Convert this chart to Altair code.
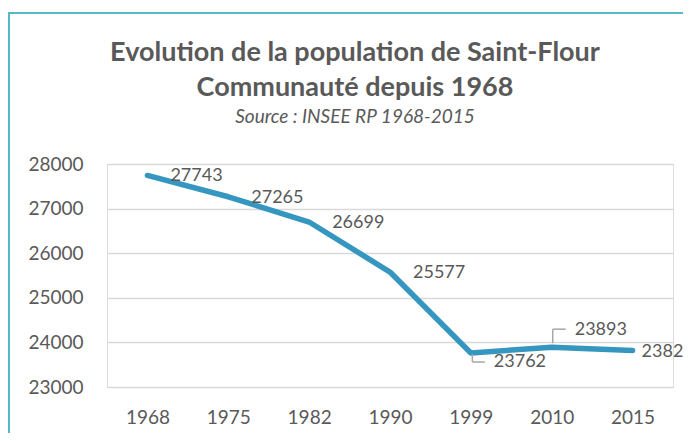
import altair as alt
import pandas as pd

years = ["1968", "1975", "1982", "1990", "1999", "2010", "2015"]
population = [27743, 27265, 26699, 25577, 23762, 23893, 23820]
title_lines = ["Evolution de la population de Saint-Flour", "Communauté depuis 1968"]
subtitle_text = "Source : INSEE RP 1968-2015"

df = pd.DataFrame({"year": years, "value": population})

TXT = "#595959"
FONT = "Lato"
LINE = "#3596bf"
GRAY = "#a6a6a6"

xenc = alt.X("year:O", sort=years,
             scale=alt.Scale(type="point", padding=0.5),
             axis=alt.Axis(title=None, labelAngle=0, grid=False, ticks=False,
                           domain=False, labelPadding=21, labelFontSize=19,
                           labelFont=FONT, labelColor=TXT))
yenc = alt.Y("value:Q",
             scale=alt.Scale(domain=[23000, 28000], nice=False, zero=False),
             axis=alt.Axis(title=None, values=[23000, 24000, 25000, 26000, 27000, 28000],
                           format="d", ticks=False, domain=False, labelPadding=24,
                           labelFontSize=19, labelFont=FONT, labelColor=TXT,
                           gridColor="#d9d9d9", gridWidth=1.5))

base = alt.Chart(df)
one = alt.InlineData(values=[{"a": 1}])

frame = alt.Chart(one).mark_rect(
    fill=None, stroke="#56b9c7", strokeWidth=2
).encode(x=alt.value(-98), x2=alt.value(700), y=alt.value(-151), y2=alt.value(400))

t1 = alt.Chart(one).mark_text(font=FONT, fontSize=27, fontWeight="bold", color=TXT,
                              align="center", baseline="alphabetic", text=title_lines[0]
                              ).encode(x=alt.value(248), y=alt.value(-103))
t2 = alt.Chart(one).mark_text(font=FONT, fontSize=27, fontWeight="bold", color=TXT,
                              align="center", baseline="alphabetic", text=title_lines[1]
                              ).encode(x=alt.value(248), y=alt.value(-68))
t3 = alt.Chart(one).mark_text(font=FONT, fontSize=19, fontStyle="italic", color=TXT,
                              align="center", baseline="alphabetic", text=subtitle_text
                              ).encode(x=alt.value(248), y=alt.value(-41))

line = base.mark_line(color=LINE, strokeWidth=5.5, strokeCap="round", strokeJoin="round").encode(
    x=xenc, y=yenc)

sel_std = ["1968", "1975", "1982", "1990"]

def labels(keep, dx, dy):
    return base.transform_filter(
        alt.FieldOneOfPredicate(field="year", oneOf=keep)
    ).mark_text(align="left", baseline="middle", dx=dx, dy=dy, font=FONT,
                fontSize=18, color=TXT).encode(
        x=alt.X("year:O", sort=years, scale=alt.Scale(type="point", padding=0.5)),
        y="value:Q", text=alt.Text("value:Q", format="d"))

lab_std = labels(sel_std, 23, 1)
lab_99 = labels(["1999"], 23, 9)
lab_10 = labels(["2010"], 23, -17)
lab_15 = labels(["2015"], 9, 2)

def leader(keep, xo, yo, x2o, y2o):
    return base.transform_filter(
        alt.FieldOneOfPredicate(field="year", oneOf=keep)
    ).mark_rule(color=GRAY, strokeWidth=1.5, xOffset=xo, yOffset=yo,
                x2Offset=x2o, y2Offset=y2o).encode(
        x=alt.X("year:O", sort=years, scale=alt.Scale(type="point", padding=0.5)),
        y="value:Q", x2="year:O", y2="value:Q")

l99a = leader(["1999"], 1.5, 1, 1.5, 9)
l99b = leader(["1999"], 1.5, 9, 14, 9)
l10a = leader(["2010"], 1, -4, 1, -18)
l10b = leader(["2010"], 1, -18, 14, -18)

chart = alt.layer(
    frame, t1, t2, t3, line, l99a, l99b, l10a, l10b, lab_std, lab_99, lab_10, lab_15
).properties(
    width=566, height=223,
    autosize=alt.AutoSizeParams(type="none"),
    padding={"left": 99, "top": 156, "right": 10, "bottom": 46},
).configure_view(stroke=None).configure(background="white")

chart.save("out.html", embed_options={"renderer": "svg", "actions": False})
